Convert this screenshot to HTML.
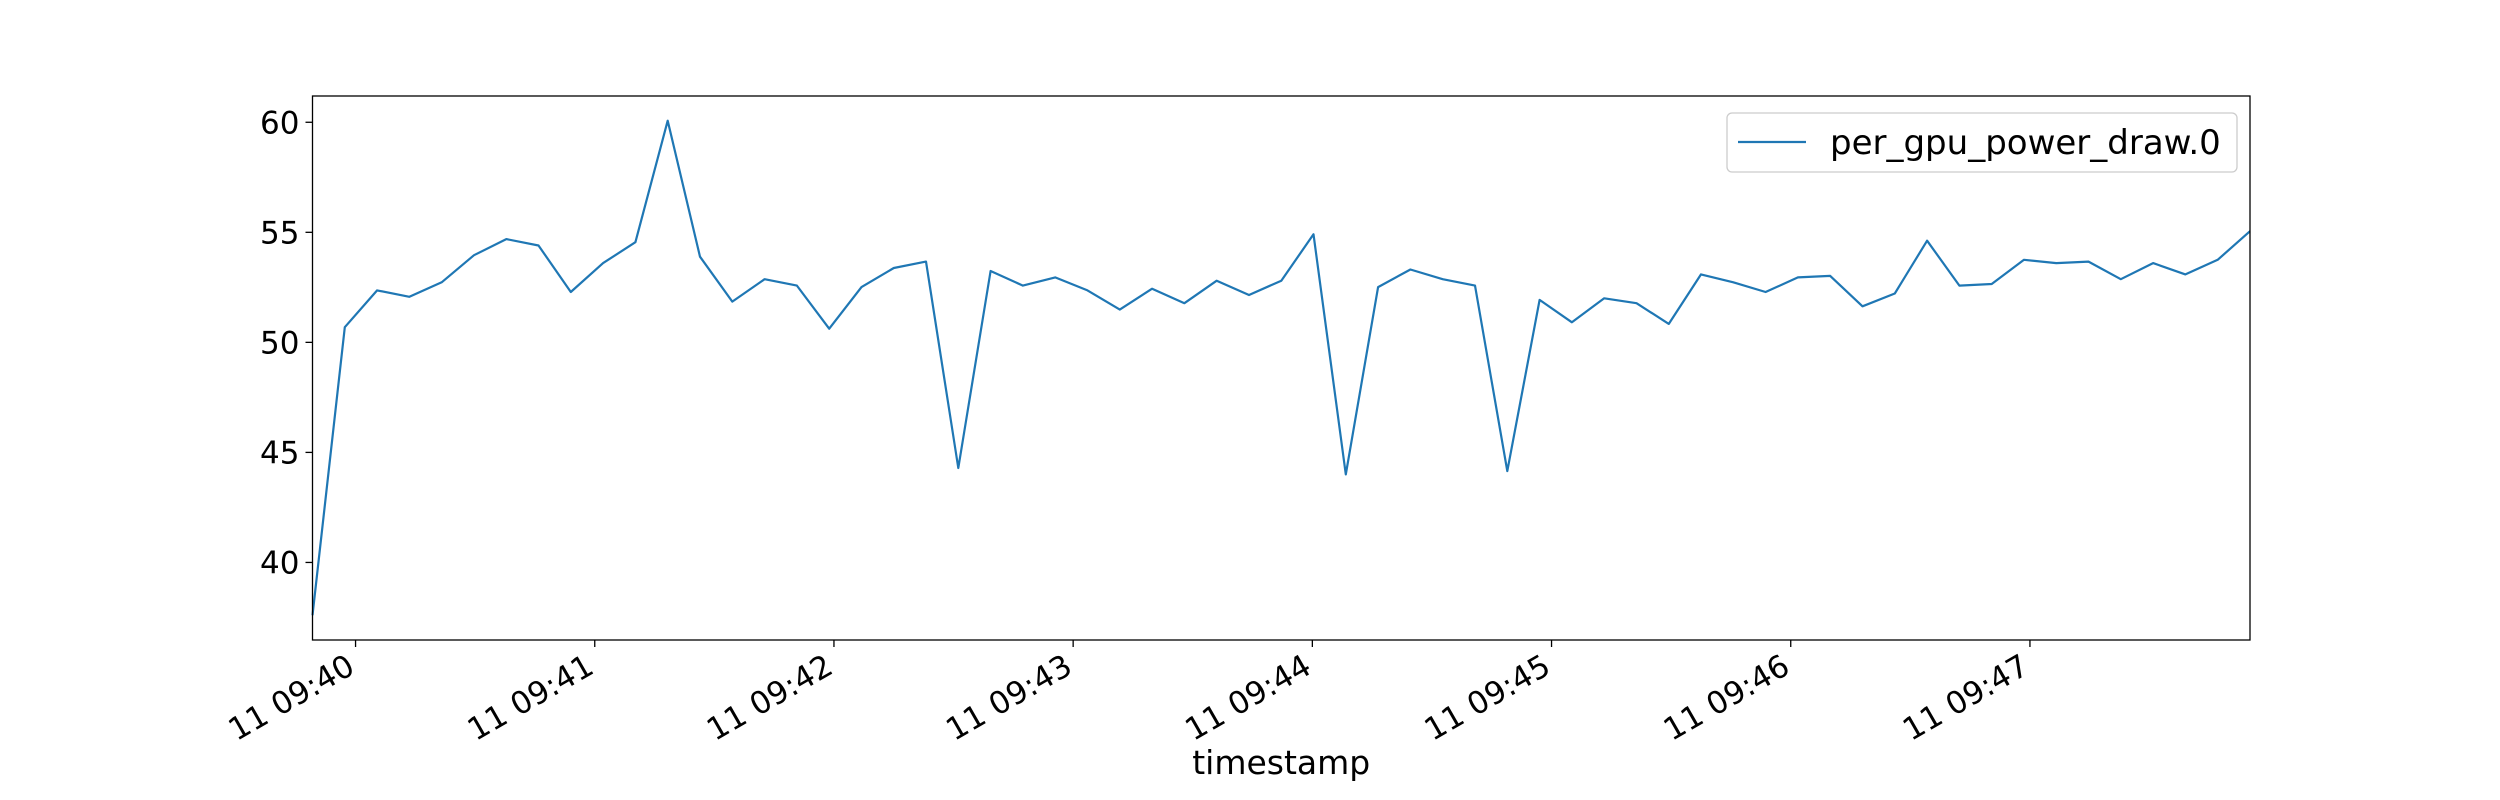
<!DOCTYPE html>
<html><head><meta charset="utf-8"><style>
html,body{margin:0;padding:0;background:#fff;}
svg{display:block;font-family:"DejaVu Sans","Liberation Sans",sans-serif;}
</style></head><body>
<svg id="chart" width="2500" height="800" viewBox="0 0 2500 800" xmlns="http://www.w3.org/2000/svg">
<rect width="2500" height="800" fill="#fff"/>
<g id="plot"></g>
</svg>
<script>
const startSec = -10.8;
const stepSec = 8.1;
const powerValues = [37.6,50.69,52.36,52.07,52.73,53.96,54.69,54.40,52.29,53.6,54.55,60.07,53.89,51.85,52.87,52.58,50.62,52.51,53.38,53.67,44.29,53.24,52.58,52.95,52.36,51.49,52.44,51.78,52.8,52.15,52.8,54.91,44.0,52.51,53.31,52.87,52.58,44.15,51.93,50.91,52.0,51.78,50.84,53.09,52.73,52.29,52.95,53.02,51.64,52.22,54.62,52.58,52.65,53.75,53.6,53.67,52.87,53.6,53.09,53.75,55.05];
const yTicks = [40,45,50,55,60];
const xTickMinutes = [0,1,2,3,4,5,6,7];
const xTickLabels = ["11 09:40","11 09:41","11 09:42","11 09:43","11 09:44","11 09:45","11 09:46","11 09:47"];
const seriesName = "per_gpu_power_draw.0";

const NS="http://www.w3.org/2000/svg";
const L=312.5,R=2250,T=96,B=640;
const times = powerValues.map((v,i)=>startSec+i*stepSec);
const xMin=times[0], xMax=times[times.length-1];
const vMin=Math.min(...powerValues), vMax=Math.max(...powerValues);
const pad=(vMax-vMin)*0.05;
const yMin=vMin-pad, yMax=vMax+pad;
const xs=t=>L+(t-xMin)/(xMax-xMin)*(R-L);
const ys=v=>B-(v-yMin)/(yMax-yMin)*(B-T);
const g=document.getElementById('plot');
function mk(tag,attrs){const e=document.createElementNS(NS,tag);for(const k in attrs)e.setAttribute(k,attrs[k]);g.appendChild(e);return e;}

const line=mk('polyline',{points:powerValues.map((v,i)=>xs(times[i]).toFixed(1)+','+ys(v).toFixed(1)).join(' '),fill:'none',stroke:'#1f77b4','stroke-width':2.2,'stroke-linejoin':'round'});



const frame=mk('rect',{x:L,y:T,width:R-L,height:B-T,fill:'none',stroke:'#000','stroke-width':1.3});



yTicks.forEach(v=>{
  const y=ys(v);
  const tk=mk('line',{x1:L-7,x2:L,y1:y,y2:y,stroke:'#000','stroke-width':1.3});
  
  
  const t=mk('text',{x:L-13,y:y+11,'text-anchor':'end','font-size':31,fill:'#000'});
  t.textContent=v;
  
  
});

xTickMinutes.forEach((m,i)=>{
  const x=xs(m*60);
  const tk=mk('line',{x1:x,x2:x,y1:B,y2:B+7,stroke:'#000','stroke-width':1.3});
  
  
  const t=mk('text',{x:0,y:0,'text-anchor':'end','font-size':31,fill:'#000',transform:`translate(${x+1},${B+32}) rotate(-30)`});
  t.textContent=xTickLabels[i];
  
  
});

const xt=mk('text',{x:(L+R)/2,y:774,'text-anchor':'middle','font-size':33,fill:'#000'});
xt.textContent='timestamp';



const lb=mk('rect',{x:1727,y:113,width:510,height:59,rx:5,fill:'#fff','fill-opacity':0.8,stroke:'#ccc','stroke-width':1.3});


const ll=mk('line',{x1:1738,x2:1806,y1:142,y2:142,stroke:'#1f77b4','stroke-width':2.2});


const lt=mk('text',{x:1830,y:154,'font-size':34,fill:'#000'});
lt.textContent=seriesName;


</script>
</body></html>
